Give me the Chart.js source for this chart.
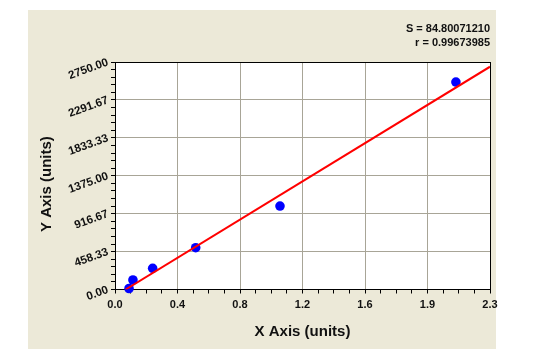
<!DOCTYPE html>
<html>
<head>
<meta charset="utf-8">
<script src="https://cdn.jsdelivr.net/npm/chart.js@4/dist/chart.umd.min.js"></script>
<style>
  body { margin: 0; background: #ffffff; }
</style>
</head>
<body>
<canvas id="myChart" width="533" height="357"></canvas>
<script>
// standards
const xValues = [0.086, 0.110, 0.231, 0.495, 1.012, 2.091];
const yValues = [12, 115, 256, 505, 1009, 2508];

// fitted line ends
const fitX = [0.065, 2.3];
const fitY = [0, 2693];

const xTickLabels = ["0.0", "0.4", "0.8", "1.2", "1.6", "1.9", "2.3"];
const yTickLabels = ["0.00", "458.33", "916.67", "1375.00", "1833.33", "2291.67", "2750.00"];
const statLines = ["S = 84.80071210", "r = 0.99673985"];

const gridGray = "#a8a597";
const textColor = "#111111";
const tickFont = { family: "Liberation Sans", size: 11, weight: "bold" };
const titleFont = { family: "Liberation Sans", size: 15, weight: "bold" };

const panelPlugin = {
  id: "panel",
  beforeDraw(chart) {
    const c = chart.ctx;
    const a = chart.chartArea;
    c.save();
    c.fillStyle = "#ece9d8";
    c.fillRect(28, 10, 468, 339);
    c.fillStyle = "#ffffff";
    c.fillRect(a.left, a.top, a.right - a.left, a.bottom - a.top);
    c.restore();
  },
};

const ctx = document.getElementById("myChart").getContext("2d");

const chart = new Chart(ctx, {
  type: "scatter",
  data: {
    datasets: [
      {
        label: "Fit",
        type: "line",
        data: fitX.map((x, i) => ({ x: x, y: fitY[i] })),
        borderColor: "#ff0000",
        borderWidth: 2,
        pointRadius: 0,
        fill: false,
      },
      {
        label: "Standards",
        data: xValues.map((x, i) => ({ x: x, y: yValues[i] })),
        backgroundColor: "#0000ff",
        borderColor: "#0000ff",
        borderWidth: 0,
        pointRadius: 4.8,
        pointHoverRadius: 4.8,
        clip: false,
      },
    ],
  },
  options: {
    responsive: false,
    animation: false,
    events: [],
    layout: {
      padding: { left: 38, right: 43, top: 10, bottom: 16 },
    },
    plugins: {
      legend: { display: false },
      tooltip: { enabled: false },
      title: {
        display: true,
        text: statLines,
        align: "end",
        color: textColor,
        font: { family: "Liberation Sans", size: 11, weight: "bold", lineHeight: 14 / 11 },
        padding: { top: 12, bottom: 12 },
      },
    },
    scales: {
      x: {
        type: "linear",
        min: 0,
        max: 2.3,
        afterBuildTicks(scale) {
          const t = [];
          for (let i = 0; i <= 24; i++) t.push({ value: (2.3 * i) / 24 });
          scale.ticks = t;
        },
        afterFit(scale) {
          scale.height = 51.5;
        },
        grid: {
          color: (c) => (c.index % 4 !== 0 ? "rgba(0,0,0,0)" : c.index === 24 ? "#000000" : gridGray),
          tickColor: "#000000",
          tickLength: 4,
        },
        border: { color: "#000000", width: 1 },
        ticks: {
          autoSkip: false,
          maxRotation: 0,
          padding: 5,
          color: textColor,
          font: tickFont,
          callback: (v, i) => (i % 4 === 0 ? xTickLabels[i / 4] : ""),
        },
        title: {
          display: true,
          text: "X Axis (units)",
          color: textColor,
          font: titleFont,
          padding: { top: 0, bottom: 0 },
        },
      },
      y: {
        type: "linear",
        min: 0,
        max: 2750,
        afterBuildTicks(scale) {
          const t = [];
          for (let i = 0; i <= 30; i++) t.push({ value: (2750 * i) / 30 });
          scale.ticks = t;
        },
        afterFit(scale) {
          scale.width = 77;
        },
        grid: {
          color: (c) => (c.index % 5 !== 0 ? "rgba(0,0,0,0)" : c.index === 30 ? "#000000" : gridGray),
          tickColor: "#000000",
          tickLength: 4,
        },
        border: { color: "#000000", width: 1 },
        ticks: {
          autoSkip: false,
          minRotation: 20,
          maxRotation: 20,
          padding: 3,
          color: textColor,
          font: { family: "Liberation Sans", size: 11.5, weight: "bold" },
          callback: (v, i) => (i % 5 === 0 ? yTickLabels[i / 5] : ""),
        },
        title: {
          display: true,
          // trailing spaces push the rotated title a little lower, as in the original
          text: "Y Axis (units)    ",
          color: textColor,
          font: titleFont,
          padding: { top: 0, bottom: 0 },
        },
      },
    },
  },
  plugins: [panelPlugin],
});
</script>
</body>
</html>
